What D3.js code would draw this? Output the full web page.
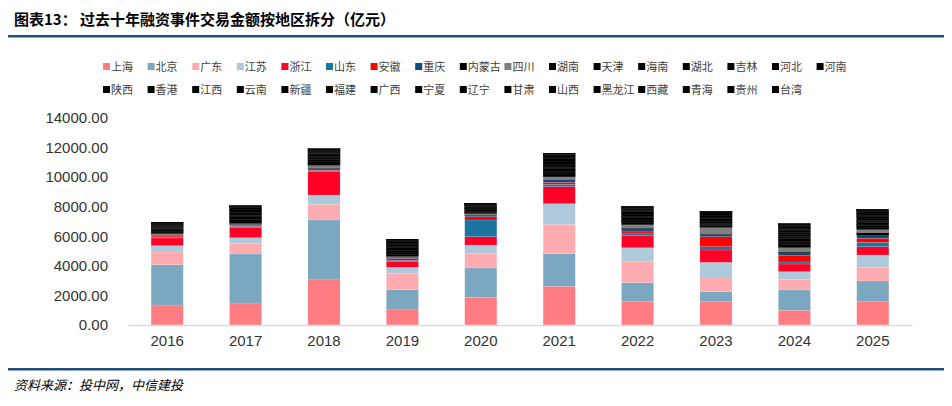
<!DOCTYPE html>
<html>
<head>
<meta charset="utf-8">
<script src="https://cdn.jsdelivr.net/npm/d3@7"></script>
<style>
  body { margin: 0; background: #fff; }
  svg { display: block; font-family: "Noto Sans CJK SC", "Liberation Sans", sans-serif; }
</style>
</head>
<body>
<div id="chart"></div>
<script>
const years = ['2016', '2017', '2018', '2019', '2020', '2021', '2022', '2023', '2024', '2025'];
const yTicks = [0, 2000, 4000, 6000, 8000, 10000, 12000, 14000];

const regions = ['上海', '北京', '广东', '江苏', '浙江', '山东', '安徽', '重庆', '内蒙古', '四川',
  '湖南', '天津', '海南', '湖北', '吉林', '河北', '河南', '陕西', '香港', '江西', '云南',
  '新疆', '福建', '广西', '宁夏', '辽宁', '甘肃', '山西', '黑龙江', '西藏', '青海', '贵州', '台湾'];

// 亿元, per region, 2016..2025
const shanghai  = [1353, 1488, 3111, 1082, 1871, 2615, 1578, 1578, 992, 1578];
const beijing   = [2725, 3314, 3990, 1308, 1984, 2209, 1285, 677, 1375, 1398];
const guangdong = [860, 723, 1062, 1104, 992, 1984, 1420, 924, 721, 901];
const jiangsu   = [426, 380, 629, 406, 563, 1397, 946, 1059, 519, 857];
const zhejiang  = [520, 676, 1576, 383, 564, 1151, 812, 834, 518, 564];
const shandong  = [30, 100, 90, 100, 1127, 158, 180, 225, 135, 292];
const anhui     = [100, 40, 110, 120, 225, 135, 135, 677, 428, 271];
const chongqing = [20, 60, 40, 70, 100, 180, 180, 158, 180, 225];
const neimenggu = [20, 30, 15, 10, 10, 15, 25, 20, 60, 150];
const sichuan   = [130, 60, 180, 60, 100, 180, 225, 451, 315, 225];
const hunan     = [95, 160, 150, 120, 90, 200, 160, 130, 200, 160];
const tianjin   = [60, 90, 80, 110, 50, 120, 90, 80, 120, 100];
const hainan    = [20, 30, 35, 25, 15, 45, 30, 40, 60, 50];
const hubei     = [100, 150, 140, 130, 100, 210, 170, 150, 220, 170];
const jilin     = [25, 35, 30, 40, 20, 45, 40, 30, 50, 40];
const hebei     = [45, 70, 65, 70, 40, 100, 75, 65, 100, 85];
const henan     = [60, 95, 90, 85, 55, 130, 100, 90, 130, 115];
const shaanxi   = [75, 120, 115, 105, 65, 160, 125, 110, 140, 140];
const xianggang = [55, 90, 95, 95, 50, 125, 95, 85, 120, 100];
const jiangxi   = [45, 70, 60, 65, 40, 90, 70, 65, 95, 85];
const yunnan    = [25, 35, 30, 35, 20, 45, 35, 30, 45, 40];
const xinjiang  = [15, 20, 20, 20, 10, 30, 20, 15, 30, 25];
const fujian    = [60, 95, 90, 85, 50, 125, 95, 80, 130, 110];
const guangxi   = [15, 25, 20, 25, 12, 30, 22, 20, 30, 28];
const ningxia   = [5, 8, 6, 8, 4, 10, 8, 6, 10, 8];
const liaoning  = [25, 35, 32, 40, 18, 45, 35, 30, 45, 40];
const gansu     = [6, 10, 9, 10, 5, 12, 10, 8, 12, 10];
const shanxi    = [15, 25, 20, 25, 12, 30, 25, 20, 30, 28];
const heilongjiang = [8, 12, 10, 15, 6, 15, 12, 10, 15, 12];
const xizang    = [2, 3, 2, 3, 1, 4, 3, 2, 4, 3];
const qinghai   = [2, 3, 2, 3, 1, 4, 3, 2, 4, 3];
const guizhou   = [8, 13, 12, 15, 6, 18, 14, 10, 18, 15];
const taiwan    = [4, 6, 5, 6, 2, 8, 6, 5, 8, 6];

const seriesValues = [shanghai, beijing, guangdong, jiangsu, zhejiang, shandong, anhui, chongqing,
  neimenggu, sichuan, hunan, tianjin, hainan, hubei, jilin, hebei, henan, shaanxi, xianggang,
  jiangxi, yunnan, xinjiang, fujian, guangxi, ningxia, liaoning, gansu, shanxi, heilongjiang,
  xizang, qinghai, guizhou, taiwan];

const colors = ['#ff7c82', '#7ba7c1', '#ffacb1', '#adc9da', '#ff0027', '#1b74a2', '#ff0000', '#0c4b7e', '#000000', '#808080'];
const colorOf = (i) => (i < colors.length ? colors[i] : '#000000');

const width = 952, height = 406;
const svg = d3.select('#chart').append('svg')
  .attr('width', width)
  .attr('height', height);

// title + rules
svg.append('text')
  .attr('x', 14).attr('y', 25)
  .style('font-size', '15px').style('font-weight', 'bold').style('fill', '#000')
  .text('图表13：  过去十年融资事件交易金额按地区拆分（亿元）');
svg.append('rect').attr('x', 8).attr('y', 35).attr('width', 936).attr('height', 2.5).attr('fill', '#1f4e79');
svg.append('rect').attr('x', 8).attr('y', 368).attr('width', 936).attr('height', 2.5).attr('fill', '#1f4e79');
svg.append('text')
  .attr('x', 14).attr('y', 390)
  .style('font-size', '13px').style('font-style', 'italic').style('fill', '#000')
  .text('资料来源：投中网，中信建投');

// legend
const legendRows = [regions.slice(0, 17), regions.slice(17)];
legendRows.forEach((row, r) => {
  const g = svg.append('g').attr('transform', `translate(103,${67 + r * 23})`);
  const item = g.selectAll('g').data(row).enter().append('g')
    .attr('transform', (d, i) => `translate(${i * 44.6},0)`);
  item.append('rect')
    .attr('x', 0).attr('y', -4).attr('width', 7).attr('height', 7)
    .attr('fill', (d) => colorOf(regions.indexOf(d)));
  item.append('text')
    .attr('x', 8).attr('y', 4)
    .style('font-size', '11px').style('fill', '#404040')
    .text((d) => d);
});

// scales
const x = d3.scaleBand().domain(years).range([128, 912]).paddingInner(0.59).paddingOuter(0.295);
const y = d3.scaleLinear().domain([0, 14000]).range([325, 118]);

const table = years.map((yr, j) => {
  const row = { year: yr };
  regions.forEach((r, i) => { row[r] = seriesValues[i][j]; });
  return row;
});
const stacked = d3.stack().keys(regions)(table);

// black segments get a same-colour stroke so seams don't show as stripes
svg.append('g').selectAll('g')
  .data(stacked)
  .enter().append('g')
  .attr('fill', (d, i) => colorOf(i))
  .attr('stroke', (d, i) => (i < 8 ? '#fff' : colorOf(i)))
  .attr('stroke-opacity', (d, i) => (i < 8 ? 0.3 : 1))
  .attr('stroke-width', (d, i) => (i < 8 ? 0.4 : 0.25))
  .selectAll('rect')
  .data((d) => d)
  .enter().append('rect')
  .attr('x', (d) => x(d.data.year))
  .attr('width', x.bandwidth())
  .attr('y', (d) => y(d[1]))
  .attr('height', (d) => y(d[0]) - y(d[1]));

// axes
const yAxis = svg.append('g')
  .attr('transform', 'translate(120,0)')
  .call(d3.axisLeft(y).tickValues(yTicks).tickFormat(d3.format('.2f')).tickSize(0));
yAxis.select('.domain').remove();
yAxis.selectAll('text')
  .attr('x', -12)
  .style('font-family', '"Liberation Sans", Arial, sans-serif')
  .style('font-size', '15px').style('fill', '#333');

const xAxis = svg.append('g')
  .attr('transform', 'translate(0,325)')
  .call(d3.axisBottom(x).tickSize(0));
xAxis.select('.domain').attr('stroke', '#d9d9d9').attr('stroke-width', 1.5);
xAxis.selectAll('text')
  .attr('dy', '1.2em')
  .style('font-family', '"Liberation Sans", Arial, sans-serif')
  .style('font-size', '15px').style('fill', '#333');
</script>
</body>
</html>
